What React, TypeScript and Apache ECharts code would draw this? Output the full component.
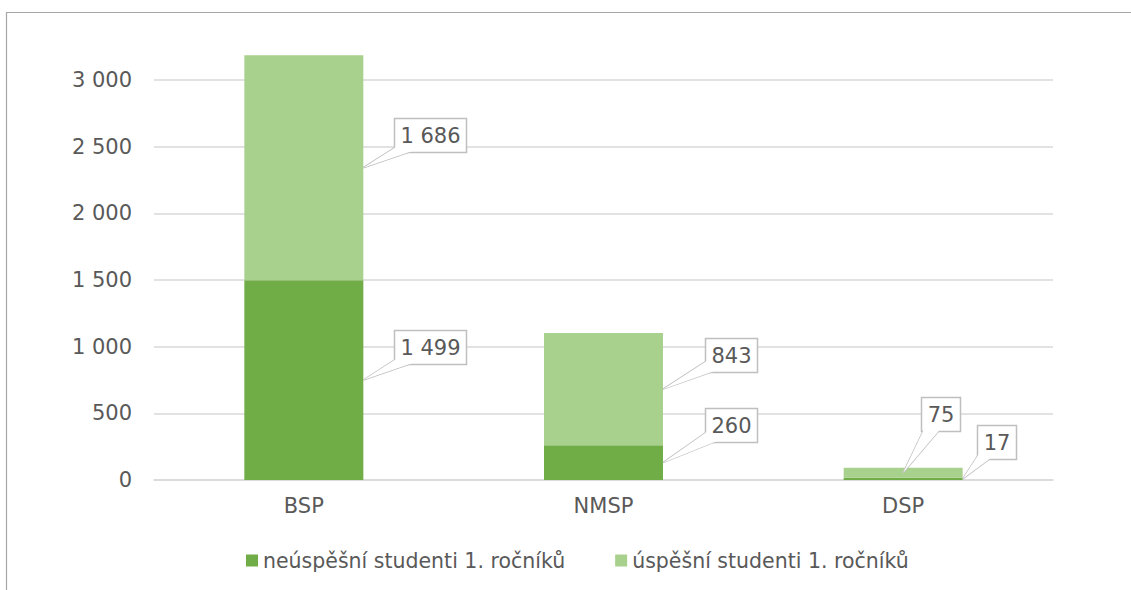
import React, { useEffect, useRef } from 'react';
import * as echarts from 'echarts';

const categories = ['BSP', 'NMSP', 'DSP'];
const seriesNames = ['neúspěšní studenti 1. ročníků', 'úspěšní studenti 1. ročníků'];
const failedValues = [1499, 260, 17];
const passedValues = [1686, 843, 75];
const seriesColors = ['#70AD47', '#A9D18E'];

// callout box placement relative to the anchor point on the bar
// ax: anchor x as multiple of half bar width from category centre; dx/dy: box top-left offset
const calloutLayout = [
  [{ ax: 1, dx: 31, dy: -50 }, { ax: 1, dx: 42, dy: -55 }, { ax: 1, dx: 14, dy: -54 }],
  [{ ax: 1, dx: 31, dy: -50 }, { ax: 1, dx: 42, dy: -51 }, { ax: 0, dx: 18, dy: -76 }],
];

const FONT_FAMILY = "'DejaVu Sans', sans-serif";
const FONT_SIZE = 21;
const LEGEND_FONT_SIZE = 20.5;
const TEXT_COLOR = '#595959';
const BAR_W = 119;
const PAD_X = 6;
const BOX_H = 34;
const WEDGE_W = 9;

const fmt = (v: number) => String(v).replace(/\B(?=(\d{3})+(?!\d))/g, ' ');

let measureCtx: CanvasRenderingContext2D | null = null;
const measure = (t: string) => {
  if (!measureCtx) measureCtx = document.createElement('canvas').getContext('2d');
  measureCtx!.font = `${FONT_SIZE}px ${FONT_FAMILY}`;
  return measureCtx!.measureText(t).width;
};

export default function App() {
  const ref = useRef<HTMLDivElement>(null);
  useEffect(() => {
    if (!ref.current) return;
    const chart = echarts.init(ref.current, null, { renderer: 'svg' });

    const calloutData: number[][] = [];
    categories.forEach((_, i) => {
      calloutData.push([i, failedValues[i] / 2, failedValues[i], 0]);
      calloutData.push([i, failedValues[i] + passedValues[i] / 2, passedValues[i], 1]);
    });

    chart.setOption({
      animation: false,
      textStyle: { fontFamily: FONT_FAMILY },
      graphic: [
        {
          type: 'rect',
          shape: { x: 6.5, y: 12.5, width: 1300, height: 800 },
          style: { fill: 'none', stroke: '#a6a6a6', lineWidth: 1.2 },
          silent: true,
          z: 0,
        },
      ],
      grid: { left: 154, right: 78, top: 480 - 3500 * (400 / 3000), bottom: 110 },
      legend: {
        data: seriesNames,
        left: 246,
        top: 550,
        padding: 0,
        icon: 'rect',
        itemWidth: 12,
        itemHeight: 12,
        itemGap: 50,
        textStyle: { fontSize: LEGEND_FONT_SIZE, color: TEXT_COLOR, fontFamily: FONT_FAMILY },
      },
      xAxis: {
        type: 'category',
        data: categories,
        axisTick: { show: false },
        axisLine: { lineStyle: { color: '#d9d9d9', width: 1.5 } },
        axisLabel: { fontSize: FONT_SIZE, color: TEXT_COLOR, margin: 15, fontFamily: FONT_FAMILY },
      },
      yAxis: {
        type: 'value',
        min: 0,
        max: 3500,
        interval: 500,
        axisLine: { show: false },
        axisTick: { show: false },
        splitLine: { showMaxLine: false, lineStyle: { color: '#d9d9d9', width: 1.5 } },
        axisLabel: {
          showMaxLabel: false,
          fontSize: FONT_SIZE,
          color: TEXT_COLOR,
          margin: 22,
          fontFamily: FONT_FAMILY,
          formatter: (v: number) => fmt(v),
        },
      },
      series: [
        {
          name: seriesNames[0],
          type: 'bar',
          stack: 'total',
          barWidth: BAR_W,
          data: failedValues,
          itemStyle: { color: seriesColors[0] },
        },
        {
          name: seriesNames[1],
          type: 'bar',
          stack: 'total',
          barWidth: BAR_W,
          data: passedValues,
          itemStyle: { color: seriesColors[1] },
        },
        {
          type: 'custom',
          coordinateSystem: 'cartesian2d',
          z: 10,
          silent: true,
          encode: { x: 0, y: 1 },
          data: calloutData,
          renderItem: (params: any, api: any) => {
            const cat = api.value(0);
            const mid = api.value(1);
            const val = api.value(2);
            const s = api.value(3);
            const c = api.coord([cat, mid]);
            const lay = calloutLayout[s][cat];
            const ax = c[0] + (lay.ax * BAR_W) / 2;
            const ay = c[1];
            const text = fmt(val);
            const bw = Math.round(measure(text) + 2 * PAD_X);
            const bx = Math.round(ax + lay.dx) + 0.5;
            const by = Math.round(ay + lay.dy) + 0.5;
            const cx = bx + bw / 2;
            const cy = by + BOX_H / 2;
            const vx = ax - cx;
            const vy = ay - cy;
            const len = Math.sqrt(vx * vx + vy * vy) || 1;
            const px = (-vy / len) * WEDGE_W;
            const py = (vx / len) * WEDGE_W;
            const pts = [
              [cx + px, cy + py],
              [ax, ay],
              [cx - px, cy - py],
            ];
            return {
              type: 'group',
              children: [
                { type: 'polygon', shape: { points: pts }, style: { fill: '#fff', stroke: '#bfbfbf', lineWidth: 1.5 } },
                { type: 'rect', shape: { x: bx, y: by, width: bw, height: BOX_H }, style: { fill: '#fff', stroke: '#bfbfbf', lineWidth: 1.5 } },
                { type: 'polygon', shape: { points: pts }, style: { fill: '#fff' } },
                {
                  type: 'text',
                  x: cx,
                  y: cy,
                  style: {
                    text,
                    fill: TEXT_COLOR,
                    font: `${FONT_SIZE}px ${FONT_FAMILY}`,
                    align: 'center',
                    verticalAlign: 'middle',
                  },
                },
              ],
            };
          },
        },
      ],
    });
    return () => chart.dispose();
  }, []);
  return <div ref={ref} style={{ position: 'absolute', left: 0, top: 0, width: 1131, height: 590 }} />;
}
